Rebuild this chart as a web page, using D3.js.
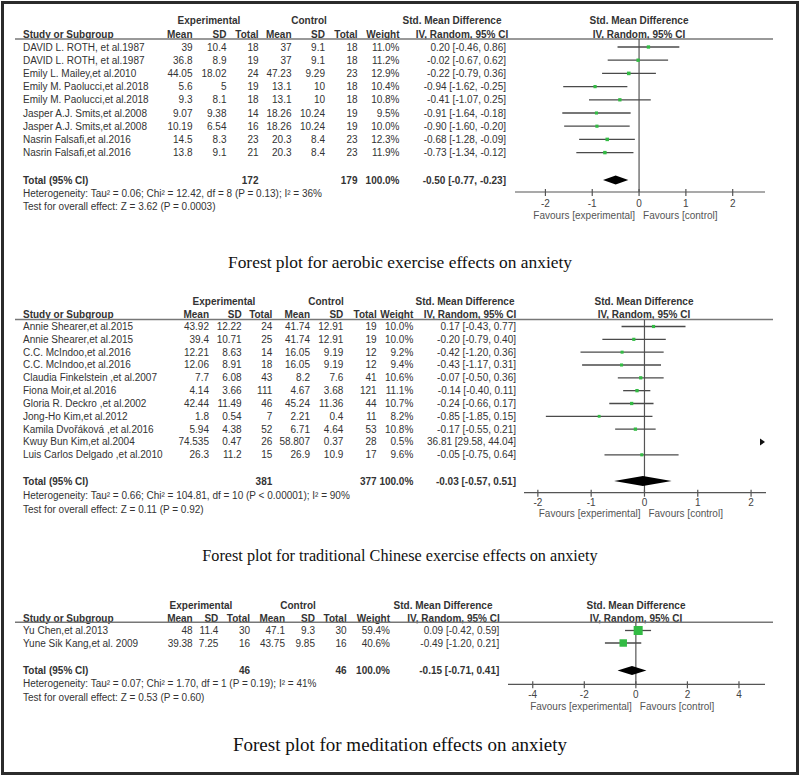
<!DOCTYPE html>
<html><head><meta charset="utf-8">
<script src="https://cdn.jsdelivr.net/npm/d3@7"></script>
<style>
html,body{margin:0;padding:0;background:#fff;}
svg{display:block;}
</style></head>
<body>
<script>
// ---------------- DATA ----------------
const aerobicStudies = ["DAVID L. ROTH, et al.1987","DAVID L. ROTH, et al.1987","Emily L. Mailey,et al.2010","Emily M. Paolucci,et al.2018","Emily M. Paolucci,et al.2018","Jasper A.J. Smits,et al.2008","Jasper A.J. Smits,et al.2008","Nasrin Falsafi,et al.2016","Nasrin Falsafi,et al.2016"];
const aerobicExp = [[39,10.4,18],[36.8,8.9,19],[44.05,18.02,24],[5.6,5,19],[9.3,8.1,18],[9.07,9.38,14],[10.19,6.54,16],[14.5,8.3,23],[13.8,9.1,21]];
const aerobicCtl = [[37,9.1,18],[37,9.1,18],[47.23,9.29,23],[13.1,10,18],[13.1,10,18],[18.26,10.24,19],[18.26,10.24,19],[20.3,8.4,23],[20.3,8.4,23]];
const aerobicWeight = [11.0,11.2,12.9,10.4,10.8,9.5,10.0,12.3,11.9];
const aerobicSMD = [[0.20,-0.46,0.86],[-0.02,-0.67,0.62],[-0.22,-0.79,0.36],[-0.94,-1.62,-0.25],[-0.41,-1.07,0.25],[-0.91,-1.64,-0.18],[-0.90,-1.60,-0.20],[-0.68,-1.28,-0.09],[-0.73,-1.34,-0.12]];
const aerobicTotals = [172,179,100.0];
const aerobicPooled = [-0.50,-0.77,-0.23];
const aerobicHet = "Heterogeneity: Tau\u00b2 = 0.06; Chi\u00b2 = 12.42, df = 8 (P = 0.13); I\u00b2 = 36%";
const aerobicTest = "Test for overall effect: Z = 3.62 (P = 0.0003)";
const aerobicTicks = [-2,-1,0,1,2];
const aerobicTitle = "Forest plot for aerobic exercise effects on anxiety";

const tceStudies = ["Annie Shearer,et al.2015","Annie Shearer,et al.2015","C.C. McIndoo,et al.2016","C.C. McIndoo,et al.2016","Claudia Finkelstein  ,et al.2007","Fiona Moir,et al.2016","Gloria R. Deckro ,et al.2002","Jong-Ho Kim,et al.2012","Kamila Dvo\u0159\u00e1kov\u00e1  ,et al.2016","Kwuy Bun Kim,et al.2004","Luis Carlos Delgado ,et al.2010"];
const tceExp = [[43.92,12.22,24],[39.4,10.71,25],[12.21,8.63,14],[12.06,8.91,18],[7.7,6.08,43],[4.14,3.66,111],[42.44,11.49,46],[1.8,0.54,7],[5.94,4.38,52],[74.535,0.47,26],[26.3,11.2,15]];
const tceCtl = [[41.74,12.91,19],[41.74,12.91,19],[16.05,9.19,12],[16.05,9.19,12],[8.2,7.6,41],[4.67,3.68,121],[45.24,11.36,44],[2.21,0.4,11],[6.71,4.64,53],[58.807,0.37,28],[26.9,10.9,17]];
const tceWeight = [10.0,10.0,9.2,9.4,10.6,11.1,10.7,8.2,10.8,0.5,9.6];
const tceSMD = [[0.17,-0.43,0.77],[-0.20,-0.79,0.40],[-0.42,-1.20,0.36],[-0.43,-1.17,0.31],[-0.07,-0.50,0.36],[-0.14,-0.40,0.11],[-0.24,-0.66,0.17],[-0.85,-1.85,0.15],[-0.17,-0.55,0.21],[36.81,29.58,44.04],[-0.05,-0.75,0.64]];
const tceTotals = [381,377,100.0];
const tcePooled = [-0.03,-0.57,0.51];
const tceHet = "Heterogeneity: Tau\u00b2 = 0.66; Chi\u00b2 = 104.81, df = 10 (P < 0.00001); I\u00b2 = 90%";
const tceTest = "Test for overall effect: Z = 0.11 (P = 0.92)";
const tceTicks = [-2,-1,0,1,2];
const tceTitle = "Forest plot for traditional Chinese exercise effects on anxiety";

const medStudies = ["Yu Chen,et al.2013","Yune Sik Kang,et al. 2009"];
const medExp = [[48,11.4,30],[39.38,7.25,16]];
const medCtl = [[47.1,9.3,30],[43.75,9.85,16]];
const medWeight = [59.4,40.6];
const medSMD = [[0.09,-0.42,0.59],[-0.49,-1.20,0.21]];
const medTotals = [46,46,100.0];
const medPooled = [-0.15,-0.71,0.41];
const medHet = "Heterogeneity: Tau\u00b2 = 0.07; Chi\u00b2 = 1.70, df = 1 (P = 0.19); I\u00b2 = 41%";
const medTest = "Test for overall effect: Z = 0.53 (P = 0.60)";
const medTicks = [-4,-2,0,2,4];
const medTitle = "Forest plot for meditation effects on anxiety";

// ---------------- DRAW ----------------
const W = 800, H = 777;
const svg = d3.select("body").append("svg").attr("width", W).attr("height", H);
svg.append("rect").attr("width", W).attr("height", H).attr("fill", "#fff");
svg.append("rect").attr("x", 2.5).attr("y", 2.5).attr("width", W - 5).attr("height", H - 6)
  .attr("fill", "none").attr("stroke", "#2b2b2b").attr("stroke-width", 3);

const TXT = "#333", FONT = "'Liberation Sans', Arial, sans-serif";

function fmt2(v){ return v.toFixed(2); }
function ci(a){ return fmt2(a[0]) + " [" + fmt2(a[1]) + ", " + fmt2(a[2]) + "]"; }

function panel(d, L) {
  const g = svg.append("g");
  const t = (x, y, s, anchor, bold, size, fill) => g.append("text")
    .attr("x", x).attr("y", y).attr("dy", "0.35em")
    .attr("text-anchor", anchor || "start")
    .attr("font-family", FONT).attr("font-size", size || L.fs)
    .attr("font-weight", bold ? "bold" : "normal")
    .attr("fill", fill || TXT).text(s);

  const c = L.cols;
  // headers
  t(L.expHdr, L.hdr1Y, "Experimental", "middle", true);
  t(L.ctlHdr, L.hdr1Y, "Control", "middle", true);
  t(L.smdHdr1, L.hdr1Y, "Std. Mean Difference", "middle", true);
  t(L.plotHdr, L.hdr1Y, "Std. Mean Difference", "middle", true);
  t(L.nameX, L.hdr2Y, "Study or Subgroup", "start", true);
  ["Mean","SD","Total","Mean","SD","Total","Weight"].forEach((h, i) => t(c[i], L.hdr2Y, h, "end", true));
  t(L.smdHdr2, L.hdr2Y, "IV, Random, 95% CI", "middle", true);
  t(L.plotHdr, L.hdr2Y, "IV, Random, 95% CI", "middle", true);
  g.append("line").attr("x1", 15).attr("x2", 773).attr("y1", L.ruleY).attr("y2", L.ruleY)
    .attr("stroke", "#777").attr("stroke-width", 1.6);

  const x = d3.scaleLinear().domain(L.domain).range(L.range);
  const rowY = i => L.row0 + i * L.rowH;

  // zero line
  g.append("line").attr("x1", x(0)).attr("x2", x(0)).attr("y1", L.ruleY).attr("y2", L.axisY)
    .attr("stroke", "#555").attr("stroke-width", 1.2);

  d.studies.forEach((s, i) => {
    const y = rowY(i);
    t(L.nameX, y, s);
    const vals = [d.exp[i][0], d.exp[i][1], d.exp[i][2], d.ctl[i][0], d.ctl[i][1], d.ctl[i][2]];
    vals.forEach((v, j) => t(c[j], y, String(v), "end"));
    t(c[6], y, d.weight[i].toFixed(1) + "%", "end");
    t(c[7], y, ci(d.smd[i]), "end");
    const [m, lo, hi] = d.smd[i];
    const [dmin, dmax] = L.domain;
    if (lo > dmax) {
      // off-scale study: arrow at the right edge
      const ax = x(dmax) - 2;
      g.append("path").attr("d", d3.line()([[ax - 4, y - 3.5], [ax + 1, y], [ax - 4, y + 3.5]]) + "Z")
        .attr("fill", "#111");
      return;
    }
    g.append("line").attr("x1", x(Math.max(lo, dmin))).attr("x2", x(Math.min(hi, dmax)))
      .attr("y1", y).attr("y2", y).attr("stroke", "#4a4a4a").attr("stroke-width", 1.3);
    const sz = L.markK * Math.sqrt(d.weight[i]);
    g.append("rect").attr("x", x(m) - sz / 2).attr("y", y - sz / 2)
      .attr("width", sz).attr("height", sz).attr("fill", "#33bb44");
  });

  // totals
  t(L.nameX, L.totalY, "Total (95% CI)", "start", true);
  t(c[2], L.totalY, String(d.totals[0]), "end", true);
  t(c[5], L.totalY, String(d.totals[1]), "end", true);
  t(c[6], L.totalY, d.totals[2].toFixed(1) + "%", "end", true);
  t(c[7], L.totalY, ci(d.pooled), "end", true);
  const [pm, pl, ph] = d.pooled, dh = L.diaH;
  g.append("path").attr("d", d3.line()([[x(pl), L.totalY], [x(pm), L.totalY - dh], [x(ph), L.totalY], [x(pm), L.totalY + dh]]) + "Z")
    .attr("fill", "#000");
  t(L.nameX, L.hetY, d.het);
  t(L.nameX, L.testY, d.test);

  // axis
  g.append("line").attr("x1", L.range[0]).attr("x2", L.range[1]).attr("y1", L.axisY).attr("y2", L.axisY)
    .attr("stroke", "#555").attr("stroke-width", 1.2);
  d.ticks.forEach(v => {
    g.append("line").attr("x1", x(v)).attr("x2", x(v)).attr("y1", L.axisY - 3).attr("y2", L.axisY + 4)
      .attr("stroke", "#555").attr("stroke-width", 1.2);
    t(x(v), L.tickY, String(v), "middle", false, L.fs, "#444");
  });
  t(x(0) - 4, L.favY, "Favours [experimental]", "end", false, L.fs, "#555");
  t(x(0) + 4, L.favY, "Favours [control]", "start", false, L.fs, "#555");

  // title
  g.append("text").attr("x", 400).attr("y", L.titleY).attr("dy", "0.35em")
    .attr("text-anchor", "middle").attr("font-family", "'Liberation Serif', 'Times New Roman', serif")
    .attr("font-size", L.titleSize).attr("fill", "#111").text(d.title);
}

panel({studies: aerobicStudies, exp: aerobicExp, ctl: aerobicCtl, weight: aerobicWeight, smd: aerobicSMD,
       totals: aerobicTotals, pooled: aerobicPooled, het: aerobicHet, test: aerobicTest, ticks: aerobicTicks, title: aerobicTitle},
  {fs: 10, nameX: 23, cols: [192.5, 226.5, 258.5, 291.5, 325, 357.5, 399.5, 506],
   expHdr: 209, ctlHdr: 309, smdHdr1: 452, smdHdr2: 462, plotHdr: 639,
   hdr1Y: 20.7, hdr2Y: 34, ruleY: 39, row0: 47, rowH: 13.2,
   totalY: 180, hetY: 193, testY: 206, axisY: 192, tickY: 203, favY: 215,
   domain: [-2.65, 2.69], range: [515, 765], markK: 1.0, diaH: 4.5, titleY: 262, titleSize: 17.4});

panel({studies: tceStudies, exp: tceExp, ctl: tceCtl, weight: tceWeight, smd: tceSMD,
       totals: tceTotals, pooled: tcePooled, het: tceHet, test: tceTest, ticks: tceTicks, title: tceTitle},
  {fs: 10, nameX: 23, cols: [209, 241.7, 272.3, 310, 343.3, 376.7, 413.3, 516],
   expHdr: 224, ctlHdr: 326, smdHdr1: 465, smdHdr2: 470, plotHdr: 644,
   hdr1Y: 301, hdr2Y: 314.5, ruleY: 319.5, row0: 326.5, rowH: 12.83,
   totalY: 481, hetY: 495.7, testY: 509, axisY: 492.7, tickY: 502.5, favY: 513.5,
   domain: [-2.26, 2.28], range: [524, 766], markK: 1.0, diaH: 5, titleY: 555, titleSize: 16.2});

panel({studies: medStudies, exp: medExp, ctl: medCtl, weight: medWeight, smd: medSMD,
       totals: medTotals, pooled: medPooled, het: medHet, test: medTest, ticks: medTicks, title: medTitle},
  {fs: 10, nameX: 23, cols: [192.7, 218.3, 250, 285, 315, 346.7, 390, 499.3],
   expHdr: 201, ctlHdr: 298, smdHdr1: 443, smdHdr2: 453.5, plotHdr: 636,
   hdr1Y: 605, hdr2Y: 618.3, ruleY: 622.3, row0: 630.5, rowH: 12.5,
   totalY: 670.5, hetY: 683.7, testY: 697, axisY: 684.3, tickY: 694, favY: 706,
   domain: [-4.96, 5.01], range: [508, 765], markK: 1.17, diaH: 4.5, titleY: 744, titleSize: 19});
</script>
</body></html>
